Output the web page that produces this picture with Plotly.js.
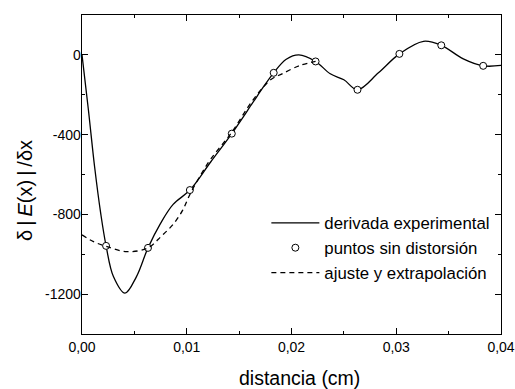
<!DOCTYPE html>
<html>
<head>
<meta charset="utf-8">
<script src="https://cdn.plot.ly/plotly-3.0.1.min.js"></script>
<style>html,body{margin:0;padding:0;background:#fff}#chart{width:515px;height:389px}</style>
</head>
<body>
<div id="chart"></div>
<script>
// Experimental derivative (solid line)
const derivX = [0, 0.0006, 0.0012, 0.0018, 0.0023, 0.0030, 0.0041, 0.0052, 0.0063, 0.0075, 0.0087, 0.0103, 0.0123, 0.0143, 0.0163, 0.0173, 0.0183, 0.0195, 0.0207, 0.0223, 0.0237, 0.0250, 0.0263, 0.0283, 0.0303, 0.0326, 0.0343, 0.0364, 0.0383, 0.0400];
const derivY = [0, -270, -560, -800, -958, -1112, -1195, -1112, -968, -845, -750, -678, -536, -395, -240, -162, -90, -22, 0, -33, -95, -125, -175, -90, 5, 68, 48, -20, -55, -53];

// Undistorted points (open circles)
const pointsX = [0.0023, 0.0063, 0.0103, 0.0143, 0.0183, 0.0223, 0.0263, 0.0303, 0.0343, 0.0383];
const pointsY = [-958, -968, -678, -395, -90, -33, -175, 5, 48, -55];

// Fit and extrapolation (dashed line)
const fitX = [0, 0.0011, 0.0023, 0.0043, 0.0063, 0.0076, 0.0087, 0.0096, 0.0103, 0.0113, 0.0123, 0.0143, 0.0163, 0.0180, 0.0191, 0.0208, 0.0223];
const fitY = [-903, -937, -960, -987, -968, -908, -850, -780, -700, -605, -522, -388, -228, -125, -95, -53, -33];

// Axis ticks
const xTickVals = [0, 0.01, 0.02, 0.03, 0.04];
const xTickText = ['0,00', '0,01', '0,02', '0,03', '0,04'];
const xMinorVals = [0.005, 0.015, 0.025, 0.035];
const yTickVals = [0, -400, -800, -1200];
const yTickText = ['0', '-400', '-800', '-1200'];
const yMinorVals = [-200, -600, -1000];

const FONT = 'Arial, "Liberation Sans", sans-serif';

const traces = [
  {x: derivX, y: derivY, type: 'scatter', mode: 'lines', name: 'derivada experimental',
   line: {color: '#000', width: 1.3, shape: 'spline', smoothing: 1}},
  {x: pointsX, y: pointsY, type: 'scatter', mode: 'markers', name: 'puntos sin distorsión',
   marker: {symbol: 'circle', size: 7, color: '#fff', line: {color: '#000', width: 1}}},
  {x: fitX, y: fitY, type: 'scatter', mode: 'lines', name: 'ajuste y extrapolación',
   line: {color: '#000', width: 1.3, dash: '5px,4px', shape: 'spline', smoothing: 1}}
];

const axisCommon = {
  showgrid: false, zeroline: false, showline: true, linecolor: '#000', linewidth: 1.3,
  mirror: 'ticks', ticks: 'inside', ticklen: 6, tickwidth: 1.2, tickcolor: '#000',
  tickfont: {family: FONT, size: 14, color: '#000'}
};

const layout = {
  width: 515, height: 389,
  margin: {l: 82, r: 14, t: 15, b: 55},
  paper_bgcolor: '#fff', plot_bgcolor: '#fff',
  showlegend: true,
  legend: {x: 0.44, y: 0.403, xanchor: 'left', yanchor: 'top', bgcolor: 'rgba(0,0,0,0)',
           font: {family: FONT, size: 16.8, color: '#000'}, tracegroupgap: 0, itemwidth: 48},
  xaxis: Object.assign({}, axisCommon, {
    range: [0, 0.04], tickmode: 'array', tickvals: xTickVals, ticktext: xTickText,
    minor: {tickmode: 'array', tickvals: xMinorVals, ticks: 'inside', ticklen: 3, tickcolor: '#000', tickwidth: 1.2}
  }),
  yaxis: Object.assign({}, axisCommon, {
    range: [-1400, 200], tickmode: 'array', tickvals: yTickVals, ticktext: yTickText,
    ticklabelstandoff: -3,
    minor: {tickmode: 'array', tickvals: yMinorVals, ticks: 'inside', ticklen: 3, tickcolor: '#000', tickwidth: 1.2}
  }),
  annotations: [
    {text: 'distancia (cm)', xref: 'paper', yref: 'paper', x: 0.52, y: -0.138,
     xanchor: 'center', yanchor: 'middle', showarrow: false, font: {family: FONT, size: 19.5, color: '#000'}},
    {text: 'δ\u2009|\u2009<i>E</i>(x)\u2009|\u2009/δx', xref: 'paper', yref: 'paper', x: -0.135, y: 0.45, textangle: -90,
     xanchor: 'center', yanchor: 'middle', showarrow: false, font: {family: FONT, size: 20, color: '#000'}}
  ]
};

Plotly.newPlot('chart', traces, layout, {displayModeBar: false, staticPlot: true});
</script>
</body>
</html>
